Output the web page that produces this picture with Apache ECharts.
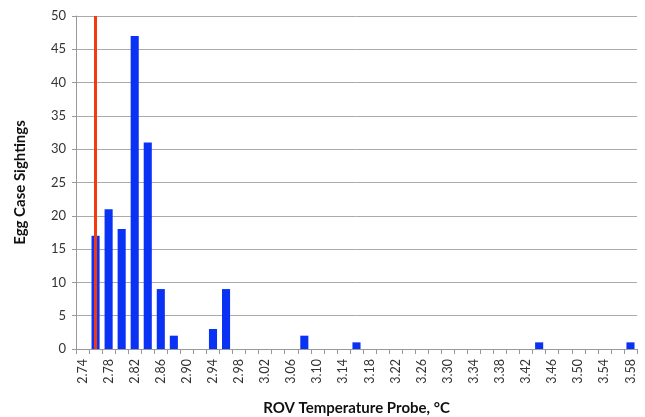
<!DOCTYPE html>
<html><head><meta charset="utf-8">
<script src="https://cdn.jsdelivr.net/npm/echarts@6/dist/echarts.min.js"></script>
<style>html,body{margin:0;padding:0;background:#fff}#c{width:645px;height:417px}</style>
</head><body><div id="c"></div>
<script>
const categories = ['2.74','2.76','2.78','2.80','2.82','2.84','2.86','2.88','2.90','2.92','2.94','2.96','2.98','3.00','3.02','3.04','3.06','3.08','3.10','3.12','3.14','3.16','3.18','3.20','3.22','3.24','3.26','3.28','3.30','3.32','3.34','3.36','3.38','3.40','3.42','3.44','3.46','3.48','3.50','3.52','3.54','3.56','3.58'];
const sightings = [0,17,21,18,47,31,9,2,0,0,3,9,0,0,0,0,0,2,0,0,0,1,0,0,0,0,0,0,0,0,0,0,0,0,0,1,0,0,0,0,0,0,1];
const markerTemp = '2.76';
const yTicks = {min:0, max:50, interval:5};

const chart = echarts.init(document.getElementById('c'));
chart.setOption({
  animation:false,
  grid:{left:76,right:8,top:16,bottom:68,containLabel:false,outerBoundsMode:'none'},
  xAxis:{
    type:'category', data:categories,
    name:'ROV Temperature Probe, °C', nameLocation:'middle', nameGap:52,
    nameTextStyle:{fontFamily:'Lato',fontWeight:'bold',fontSize:15,color:'#111'},
    axisLine:{lineStyle:{color:'#999'}},
    axisTick:{show:true,interval:0,length:5,lineStyle:{color:'#999'}},
    axisLabel:{interval:1,rotate:90,fontFamily:'Lato',fontSize:12.5,color:'#333',margin:10}
  },
  yAxis:{
    type:'value', min:yTicks.min, max:yTicks.max, interval:yTicks.interval,
    name:'Egg Case Sightings', nameLocation:'middle', nameGap:48,
    nameTextStyle:{fontFamily:'Lato',fontWeight:'bold',fontSize:15,color:'#111'},
    axisLine:{show:true,lineStyle:{color:'#999'}},
    axisTick:{show:true,length:4,lineStyle:{color:'#999'}},
    axisLabel:{fontFamily:'Lato',fontSize:13,color:'#333',margin:10},
    splitLine:{lineStyle:{color:'#aaa',width:1}}
  },
  series:[{
    type:'bar', data:sightings, barCategoryGap:'38%',
    itemStyle:{color:'#0a32f5'},
    markLine:{
      symbol:'none', silent:true, label:{show:false},
      lineStyle:{color:'#f23a12',width:3,type:'solid'},
      data:[[{xAxis:markerTemp,yAxis:0},{xAxis:markerTemp,yAxis:50}]]
    }
  }]
});
</script></body></html>
